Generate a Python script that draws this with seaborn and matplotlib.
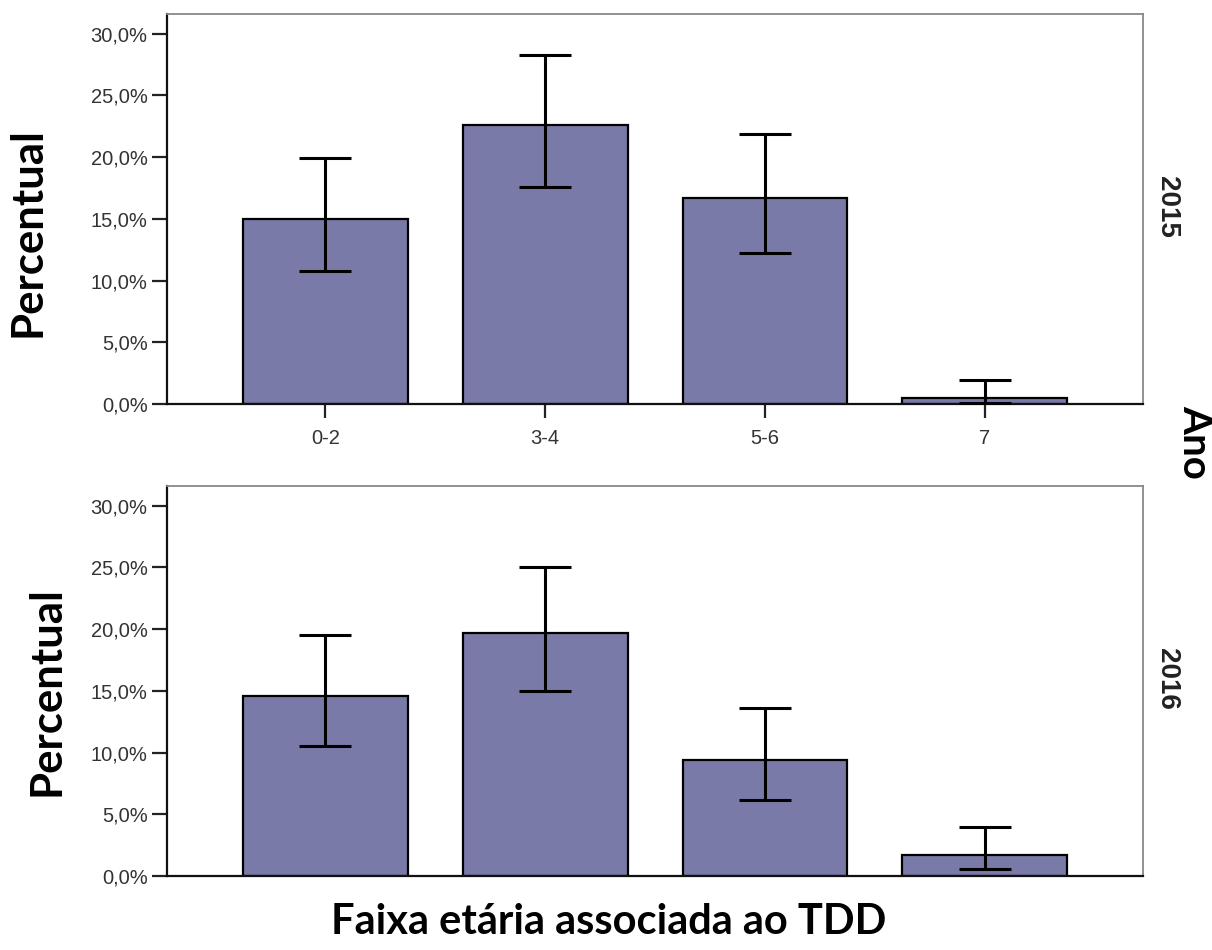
import matplotlib
matplotlib.use("Agg")
import matplotlib.pyplot as plt
import matplotlib.ticker as mticker
import seaborn as sns
import numpy as np

# ---- data ----
categories = ["0-2", "3-4", "5-6", "7"]
years = ["2015", "2016"]
pct_2015 = [15.0, 22.6, 16.7, 0.5]
low_2015 = [10.8, 17.6, 12.25, 0.1]
high_2015 = [19.95, 28.3, 21.9, 1.95]
pct_2016 = [14.55, 19.65, 9.4, 1.7]
low_2016 = [10.5, 14.95, 6.15, 0.55]
high_2016 = [19.5, 25.05, 13.6, 3.95]
yticks = [0, 5, 10, 15, 20, 25, 30]

sns.set_theme(style="white")
plt.rcParams['font.family'] = ['Liberation Sans', 'DejaVu Sans']

fig = plt.figure(figsize=(12.12, 9.5), dpi=100)
ax_top = fig.add_axes([0.1378, 0.57474, 0.8053, 0.41053])
ax_bot = fig.add_axes([0.1378, 0.07789, 0.8053, 0.41053])

bar_color = "#7A7AA8"
panels = [
    (ax_top, pct_2015, low_2015, high_2015, "2015", True, 0.023, 0.756),
    (ax_bot, pct_2016, low_2016, high_2016, "2016", False, 0.038, 0.273),
]
for ax, vals, lo, hi, yr, show_x, lx, ly in panels:
    sns.barplot(x=categories, y=vals, ax=ax, color=bar_color, saturation=1,
                edgecolor="black", linewidth=1.6, width=0.75)
    v = np.array(vals)
    yerr = np.vstack([v - np.array(lo), np.array(hi) - v])
    ax.errorbar(np.arange(len(categories)), v, yerr=yerr, fmt="none",
                ecolor="black", elinewidth=2.2, capsize=19, capthick=2.2, zorder=5)
    ax.set_xlim(-0.72, 3.72)
    ax.set_ylim(0, 31.6)
    ax.set_yticks(yticks)
    ax.yaxis.set_major_formatter(mticker.FuncFormatter(lambda y, p: f"{y:.1f}%".replace(".", ",")))
    ax.tick_params(axis="y", left=True, length=11, width=1.6, color="#222222",
                   labelsize=14.5, labelcolor="#333333", pad=3)
    if show_x:
        ax.tick_params(axis="x", bottom=True, length=10, width=1.6, color="#222222",
                       labelsize=14.5, labelcolor="#333333", pad=8)
    else:
        ax.tick_params(axis="x", bottom=False, labelbottom=False)
    ax.set_xlabel("")
    ax.set_ylabel("")
    for s in ["left", "bottom"]:
        ax.spines[s].set_color("#111111")
        ax.spines[s].set_linewidth(1.6)
    for s in ["top", "right"]:
        ax.spines[s].set_color("#888888")
        ax.spines[s].set_linewidth(1.3)
    pos = ax.get_position()
    fig.text(0.9625, (pos.y0 + pos.y1) / 2 + 0.002, yr, rotation=-90, ha="center", va="center",
             fontsize=20, fontweight="bold", color="#222222")
    fig.text(lx, ly, "Percentual", rotation=90, ha="center", va="center",
             fontsize=31.5, fontweight="bold", family=["Lato", "DejaVu Sans"], color="black")

fig.text(0.986, 0.535, "Ano", rotation=-90, ha="center", va="center",
         fontsize=29, fontweight="bold", family=["Lato", "DejaVu Sans"], color="black")
fig.text(0.502, 0.030, "Faixa etária associada ao TDD", ha="center", va="center",
         fontsize=30, fontweight="bold", family=["Lato", "DejaVu Sans"], color="black")

fig.savefig("out.png", dpi=100, facecolor="white")
